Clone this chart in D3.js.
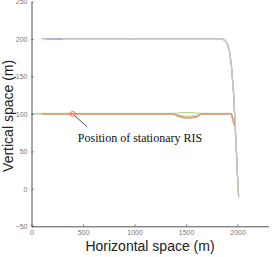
<!DOCTYPE html>
<html><head><meta charset="utf-8">
<script src="https://cdn.jsdelivr.net/npm/d3@7"></script>
<style>body{margin:0;background:#fff}svg{display:block}</style>
</head><body>
<svg id="c" width="274" height="257"></svg>
<script>
const xTicks = [0, 500, 1000, 1500, 2000];
const yTicks = [-50, 0, 50, 100, 150, 200, 250];
const xLabel = "Horizontal space (m)";
const yLabel = "Vertical space (m)";
const annotationText = "Position of stationary RIS";
const risPoint = [400, 100];
const annotationEnd = [540, 83];
const annotationTextPos = [450, 63];

// top trajectories (x, y)
const topX = [100, 140, 180, 300, 500, 1000, 1500, 1850, 1880, 1900, 1920, 1940, 1960, 1975, 1990, 2000, 2010];
const topY1 = [200, 200, 200, 200, 200, 200, 200, 200, 198, 194, 185, 165, 130, 90, 45, 15, -10];
const topY2 = [199.3, 199.3, 199.3, 199.3, 199.3, 199.3, 199.3, 199.3, 198.5, 195, 186, 166, 131, 91, 46, 14, -8];
const topY3 = [200.65, 200.65, 200.65, 200.65, 200.65, 200.65, 200.65, 200.65, 198.5, 193, 184, 164, 129, 89, 44, 16, -12];

// bottom trajectories
const botX = [0, 30, 100, 500, 1000, 1380, 1420, 1480, 1540, 1600, 1650, 1940, 1955, 1968];
const botY1 = [100, 100, 100, 100, 100, 100, 98.5, 97, 96.5, 97.5, 100, 100, 93, 86];
const botY2 = [100.6, 100.6, 100.6, 100.6, 100.6, 100.6, 101.2, 101.8, 101.8, 101.2, 100.6, 100.6, 94, 88];
const botY3 = [100, 100, 100, 100, 100, 100, 97, 95, 94.5, 96, 100, 100, 92, 85];

const series = [
  {x: topX, y: topY1, start: 0, color: "#eaa48c", w: 1.2},
  {x: topX, y: topY1, start: 1, color: "#c39acb", w: 1.2},
  {x: topX, y: topY1, start: 2, color: "#8fb8dc", w: 1.2},
  {x: topX, y: topY2, start: 3, color: "#e8d28e", w: 1},
  {x: topX, y: topY3, start: 3, color: "#c6c6c6", w: 1},
  {x: botX, y: botY1, start: 0, color: "#8fbfe6", w: 1.4},
  {x: botX, y: botY2, start: 1, color: "#b7d394", w: 1.2},
  {x: botX, y: botY1, start: 1, color: "#e3d59a", w: 1.2},
  {x: botX, y: botY3, start: 2, color: "#e39a7c", w: 1.6}
];

const svg = d3.select("#c");
const x = d3.scaleLinear().domain([0, 2300]).range([31.5, 268.5]);
const y = d3.scaleLinear().domain([-50, 250]).range([226.3, 1.5]);

const line = d3.line().x(d => x(d[0])).y(d => y(d[1]));
series.forEach(s => {
  const pts = s.x.map((v, i) => [v, s.y[i]]).slice(s.start);
  svg.append("path").attr("d", line(pts)).attr("fill", "none")
    .attr("stroke", s.color).attr("stroke-width", s.w);
});

// axes
const axisColor = "#262626";
const gx = svg.append("g").attr("transform", `translate(0,${y(-50)})`)
  .call(d3.axisBottom(x).tickValues(xTicks).tickFormat(d3.format("d")).tickSizeInner(-2).tickSizeOuter(0).tickPadding(4));
const gy = svg.append("g").attr("transform", `translate(${x(0)},0)`)
  .call(d3.axisLeft(y).tickValues(yTicks).tickFormat(d3.format("d")).tickSizeInner(-2).tickSizeOuter(0).tickPadding(4));
[gx, gy].forEach(g => {
  g.select(".domain").attr("stroke", axisColor).attr("stroke-width", 0.8);
  g.selectAll(".tick line").attr("stroke", axisColor).attr("stroke-width", 0.6);
  g.selectAll("text").attr("fill", "#777").attr("font-size", 7)
    .attr("font-family", "Liberation Sans, Arial, sans-serif");
});

// annotation
svg.append("line")
  .attr("x1", x(risPoint[0]) + 1.5).attr("y1", y(risPoint[1]) + 1.5)
  .attr("x2", x(annotationEnd[0])).attr("y2", y(annotationEnd[1]))
  .attr("stroke", "#222").attr("stroke-width", 0.8);
svg.append("circle").attr("cx", x(risPoint[0])).attr("cy", y(risPoint[1])).attr("r", 2.5)
  .attr("fill", "none").attr("stroke", "#ff5050").attr("stroke-width", 0.8);
svg.append("text").attr("x", x(annotationTextPos[0])).attr("y", y(annotationTextPos[1]))
  .attr("font-family", "Liberation Serif, Times New Roman, serif").attr("font-size", 12)
  .attr("fill", "#111").text(annotationText);

// axis labels
svg.append("text").attr("x", (x(0) + x(2300)) / 2).attr("y", 251)
  .attr("text-anchor", "middle").attr("font-family", "Liberation Sans, Arial, sans-serif")
  .attr("font-size", 14).attr("fill", "#222").text(xLabel);
svg.append("text").attr("transform", `translate(13,${(y(-50) + y(250)) / 2 + 2}) rotate(-90)`)
  .attr("text-anchor", "middle").attr("font-family", "Liberation Sans, Arial, sans-serif")
  .attr("font-size", 14).attr("fill", "#222").text(yLabel);
</script>
</body></html>
